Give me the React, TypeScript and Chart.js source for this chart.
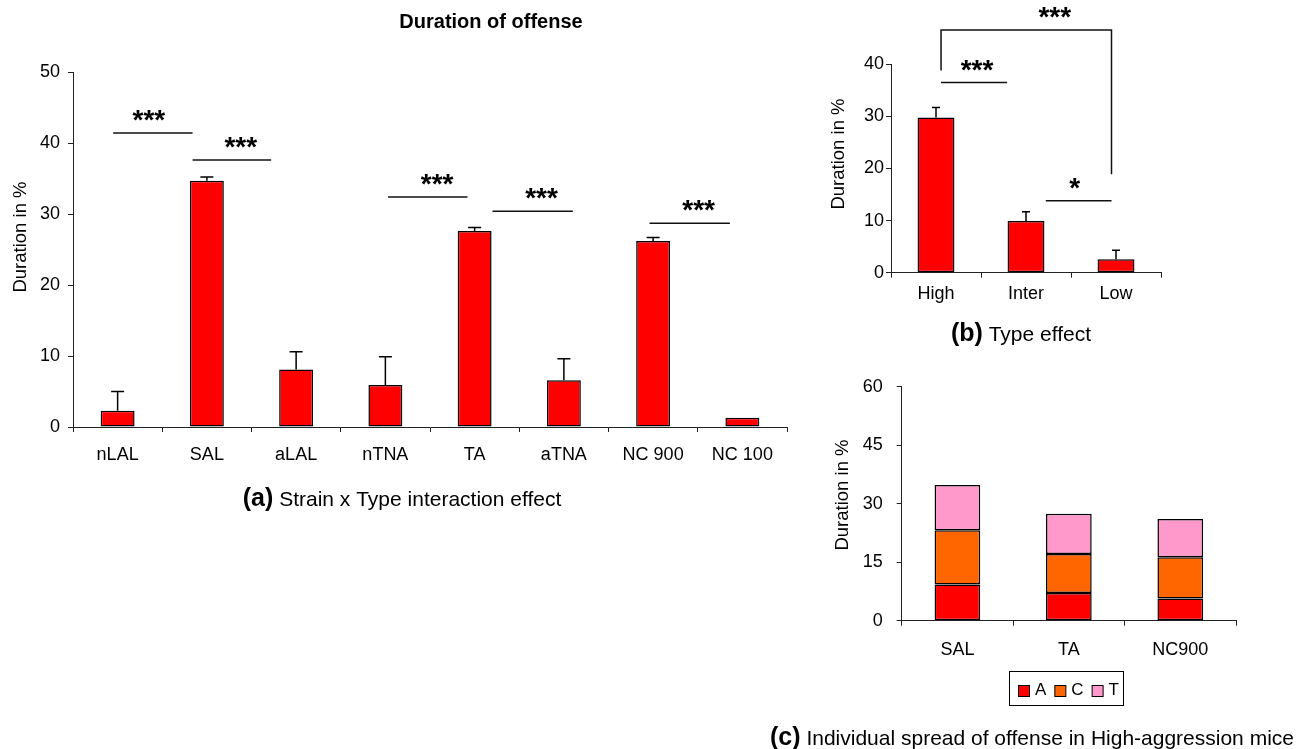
import React, { useEffect, useRef } from 'react';
import { Chart, registerables } from 'chart.js';

Chart.register(...registerables);

const FONT = '"Liberation Sans", Arial, Helvetica, sans-serif';
const AXIS_COLOR = '#222';
const INK = '#000';

// ---------- Panel (a): Strain x Type interaction ----------
const strainLabels = ['nLAL', 'SAL', 'aLAL', 'nTNA', 'TA', 'aTNA', 'NC 900', 'NC 100'];
const strainMeans = [2.3, 34.7, 8.1, 5.9, 27.6, 6.6, 26.2, 1.3];
const strainErrors = [2.7, 0.5, 2.5, 4.0, 0.5, 3.0, 0.5, 0];
const strainAxisMax = 50;
const strainAxisStep = 10;
const strainSig = [
  { from: -0.05, to: 0.84, y: 41.4, labelAt: 0.35, label: '***' },
  { from: 0.84, to: 1.72, y: 37.6, labelAt: 1.38, label: '***' },
  { from: 3.03, to: 3.92, y: 32.4, labelAt: 3.58, label: '***' },
  { from: 4.2, to: 5.1, y: 30.4, labelAt: 4.75, label: '***' },
  { from: 5.96, to: 6.86, y: 28.7, labelAt: 6.51, label: '***' },
];

// ---------- Panel (b): Type effect ----------
const typeLabels = ['High', 'Inter', 'Low'];
const typeMeans = [29.8, 9.9, 2.6];
const typeErrors = [1.9, 1.8, 1.7];
const typeAxisMax = 40;
const typeAxisStep = 10;
const typeSig = [
  { from: 0.056, to: 0.79, y: 36.5, labelAt: 0.456, label: '***' },
  { from: 0.056, to: 1.95, y: 46.6, dropLeft: 38.8, dropRight: 18.9, labelAt: 1.32, label: '***' },
  { from: 1.22, to: 1.95, y: 13.8, labelAt: 1.54, label: '*' },
];

// ---------- Panel (c): Individual spread ----------
const spreadLabels = ['SAL', 'TA', 'NC900'];
const spreadSeriesNames = ['A', 'C', 'T'];
const spreadA = [9.3, 7.1, 5.7];
const spreadC = [13.9, 10.0, 10.6];
const spreadT = [11.6, 10.3, 9.8];
const spreadAxisMax = 60;
const spreadAxisStep = 15;

const RED = '#FF0000';
const ORANGE = '#FF6600';
const PINK = '#FF99CC';

type Sig = { from: number; to: number; y: number; labelAt: number; label: string; dropLeft?: number; dropRight?: number };

function yAxis(max: number, step: number, width: number, padding: number) {
  return {
    min: 0,
    max,
    ticks: { stepSize: step, color: INK, font: { family: FONT, size: 18 }, padding },
    grid: { drawOnChartArea: false, drawTicks: true, tickLength: 5, color: AXIS_COLOR, lineWidth: 1 },
    border: { display: true, color: AXIS_COLOR, width: 1 },
    afterFit: (s: any) => { s.width = width; },
  };
}

function xAxis(height: number, padding: number, stacked = false) {
  return {
    stacked,
    offset: true,
    ticks: { color: INK, font: { family: FONT, size: 18 }, padding, maxRotation: 0, autoSkip: false },
    grid: { offset: true, drawOnChartArea: false, drawTicks: true, tickLength: 5, color: AXIS_COLOR, lineWidth: 1 },
    border: { display: true, color: AXIS_COLOR, width: 1 },
    afterFit: (s: any) => { s.height = height; },
  };
}

function drawCentered(ctx: CanvasRenderingContext2D, text: string, cx: number, cy: number, font: string) {
  ctx.save();
  ctx.font = font;
  ctx.fillStyle = INK;
  ctx.textAlign = 'center';
  ctx.textBaseline = 'alphabetic';
  const m = ctx.measureText(text);
  const base = cy + (m.actualBoundingBoxAscent - m.actualBoundingBoxDescent) / 2;
  ctx.fillText(text, cx, base);
  ctx.restore();
}

function drawYTitle(ctx: CanvasRenderingContext2D, text: string, cx: number, cy: number) {
  ctx.save();
  ctx.translate(cx, cy);
  ctx.rotate(-Math.PI / 2);
  ctx.font = `18.5px ${FONT}`;
  ctx.fillStyle = INK;
  ctx.textAlign = 'center';
  ctx.textBaseline = 'middle';
  ctx.fillText(text, 0, 0);
  ctx.restore();
}

function drawCaption(ctx: CanvasRenderingContext2D, tag: string, rest: string, cx: number, baseline: number) {
  ctx.save();
  const fb = `bold 25px ${FONT}`;
  const fr = `21px ${FONT}`;
  ctx.font = fb;
  const wb = ctx.measureText(tag).width;
  ctx.font = fr;
  const ws = ctx.measureText(' ').width;
  const wr = ctx.measureText(rest).width;
  const start = cx - (wb + ws + wr) / 2;
  ctx.fillStyle = INK;
  ctx.textAlign = 'left';
  ctx.textBaseline = 'alphabetic';
  ctx.font = fb;
  ctx.fillText(tag, start, baseline);
  ctx.font = fr;
  ctx.fillText(rest, start + wb + ws, baseline);
  ctx.restore();
}

function drawErrorBars(chart: any, means: number[], errors: number[], cap: number) {
  const ctx = chart.ctx;
  const ys = chart.scales.y;
  const meta = chart.getDatasetMeta(0);
  ctx.save();
  ctx.strokeStyle = INK;
  ctx.lineWidth = 1.5;
  means.forEach((m, i) => {
    if (!errors[i]) return;
    const bar = meta.data[i];
    const x = bar.x;
    const y0 = ys.getPixelForValue(m);
    const y1 = ys.getPixelForValue(m + errors[i]);
    ctx.beginPath();
    ctx.moveTo(x, y0);
    ctx.lineTo(x, y1);
    ctx.moveTo(x - cap / 2, y1);
    ctx.lineTo(x + cap / 2, y1);
    ctx.stroke();
  });
  ctx.restore();
}

function drawSig(chart: any, items: Sig[], starSize: number, starGap: number) {
  const ctx = chart.ctx;
  const xs = chart.scales.x;
  const ys = chart.scales.y;
  ctx.save();
  ctx.strokeStyle = '#111';
  ctx.lineWidth = 1.5;
  items.forEach((s) => {
    const x0 = xs.getPixelForValue(s.from);
    const x1 = xs.getPixelForValue(s.to);
    const y = ys.getPixelForValue(s.y);
    ctx.beginPath();
    if (s.dropLeft !== undefined) {
      ctx.moveTo(x0, ys.getPixelForValue(s.dropLeft));
      ctx.lineTo(x0, y);
    } else {
      ctx.moveTo(x0, y);
    }
    ctx.lineTo(x1, y);
    if (s.dropRight !== undefined) ctx.lineTo(x1, ys.getPixelForValue(s.dropRight));
    ctx.stroke();
    drawCentered(ctx, s.label, xs.getPixelForValue(s.labelAt), y - starGap, `bold ${starSize}px ${FONT}`);
  });
  ctx.restore();
}

function buildStrain(canvas: HTMLCanvasElement) {
  return new Chart(canvas, {
    type: 'bar',
    data: {
      labels: strainLabels,
      datasets: [{
        label: 'Duration',
        data: strainMeans,
        backgroundColor: RED,
        borderColor: INK,
        borderWidth: 1.5,
        borderSkipped: false,
        barPercentage: 0.38,
        categoryPercentage: 1,
      }],
    },
    options: {
      responsive: false,
      animation: false,
      layout: { padding: { left: 0, right: 515, top: 72, bottom: 282 } },
      plugins: { legend: { display: false }, tooltip: { enabled: false } },
      scales: {
        x: xAxis(40, 12) as any,
        y: yAxis(strainAxisMax, strainAxisStep, 73, 8) as any,
      },
    },
    plugins: [{
      id: 'strainOverlay',
      afterDatasetsDraw(chart: any) {
        drawErrorBars(chart, strainMeans, strainErrors, 13);
      },
      afterDraw(chart: any) {
        const ctx = chart.ctx;
        drawSig(chart, strainSig, 28, 17.5);
        drawCentered(ctx, 'Duration of offense', 491, 20, `bold 20px ${FONT}`);
        drawYTitle(ctx, 'Duration in %', 21, 237);
        drawCaption(ctx, '(a)', 'Strain x Type interaction effect', 402, 506);
      },
    }],
  } as any);
}

function buildType(canvas: HTMLCanvasElement) {
  return new Chart(canvas, {
    type: 'bar',
    data: {
      labels: typeLabels,
      datasets: [{
        label: 'Duration',
        data: typeMeans,
        backgroundColor: RED,
        borderColor: INK,
        borderWidth: 1.5,
        borderSkipped: false,
        barPercentage: 0.41,
        categoryPercentage: 1,
      }],
    },
    options: {
      responsive: false,
      animation: false,
      layout: { padding: { left: 800, right: 141, top: 64.3, bottom: 441.3 } },
      plugins: { legend: { display: false }, tooltip: { enabled: false } },
      scales: {
        x: xAxis(35, 6) as any,
        y: yAxis(typeAxisMax, typeAxisStep, 91, 2) as any,
      },
    },
    plugins: [{
      id: 'typeOverlay',
      afterDatasetsDraw(chart: any) {
        drawErrorBars(chart, typeMeans, typeErrors, 8);
      },
      afterDraw(chart: any) {
        const ctx = chart.ctx;
        drawSig(chart, typeSig, 28, 17.5);
        drawYTitle(ctx, 'Duration in %', 839, 154);
        drawCaption(ctx, '(b)', 'Type effect', 1021, 341);
      },
    }],
  } as any);
}

function buildSpread(canvas: HTMLCanvasElement) {
  const series = [spreadA, spreadC, spreadT];
  const colors = [RED, ORANGE, PINK];
  return new Chart(canvas, {
    type: 'bar',
    data: {
      labels: spreadLabels,
      datasets: series.map((d, i) => ({
        label: spreadSeriesNames[i],
        data: d,
        backgroundColor: colors[i],
        borderColor: INK,
        borderWidth: 1.5,
        borderSkipped: false,
        barPercentage: 0.41,
        categoryPercentage: 1,
      })),
    },
    options: {
      responsive: false,
      animation: false,
      layout: { padding: { left: 800, right: 66, top: 386.7, bottom: 93.3 } },
      plugins: { legend: { display: false }, tooltip: { enabled: false } },
      scales: {
        x: xAxis(35, 14, true) as any,
        y: { ...(yAxis(spreadAxisMax, spreadAxisStep, 101.7, 14) as any), stacked: true },
      },
    },
    plugins: [{
      id: 'spreadOverlay',
      afterDraw(chart: any) {
        const ctx = chart.ctx;
        drawYTitle(ctx, 'Duration in %', 843, 495);
        // legend box
        ctx.save();
        ctx.strokeStyle = INK;
        ctx.lineWidth = 1;
        ctx.fillStyle = '#fff';
        ctx.fillRect(1009.5, 671.5, 114, 34);
        ctx.strokeRect(1009.5, 671.5, 114, 34);
        ctx.font = `17px ${FONT}`;
        ctx.textAlign = 'left';
        ctx.textBaseline = 'middle';
        let x = 1018;
        chart.data.datasets.forEach((ds: any) => {
          ctx.fillStyle = ds.backgroundColor;
          ctx.fillRect(x + 0.5, 685.5, 11, 11);
          ctx.strokeRect(x + 0.5, 685.5, 11, 11);
          ctx.fillStyle = INK;
          ctx.fillText(ds.label, x + 17, 690);
          x += 17 + ctx.measureText(ds.label).width + 8;
        });
        ctx.restore();
        drawCaption(ctx, '(c)', 'Individual spread of offense in High-aggression mice', 1032, 745);
      },
    }],
  } as any);
}

function ChartLayer({ build }: { build: (c: HTMLCanvasElement) => Chart }) {
  const ref = useRef<HTMLCanvasElement | null>(null);
  useEffect(() => {
    if (!ref.current) return;
    const chart = build(ref.current);
    return () => chart.destroy();
  }, [build]);
  return (
    <canvas
      ref={ref}
      width={1302}
      height={749}
      style={{ position: 'absolute', left: 0, top: 0, width: 1302, height: 749 }}
    />
  );
}

export default function App() {
  return (
    <div style={{ position: 'absolute', left: 0, top: 0, width: 1302, height: 749, background: '#fff', overflow: 'hidden' }}>
      <ChartLayer build={buildStrain} />
      <ChartLayer build={buildType} />
      <ChartLayer build={buildSpread} />
    </div>
  );
}
